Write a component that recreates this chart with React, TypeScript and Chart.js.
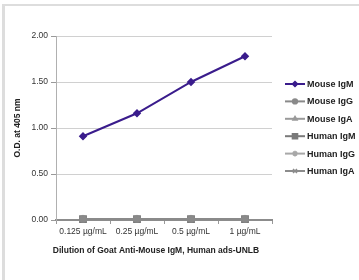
import React, { useEffect, useRef } from "react";
import { Chart, registerables } from "chart.js";
import { drawPoint } from "chart.js/helpers";

Chart.register(...registerables);

const categories = ["0.125 µg/mL", "0.25 µg/mL", "0.5 µg/mL", "1 µg/mL"];
const mouseIgM = [0.91, 1.16, 1.5, 1.78];
const mouseIgG = [0.01, 0.01, 0.01, 0.01];
const mouseIgA = [0.01, 0.01, 0.01, 0.01];
const humanIgM = [0.01, 0.01, 0.01, 0.01];
const humanIgG = [0.01, 0.01, 0.01, 0.01];
const humanIgA = [0.01, 0.01, 0.01, 0.01];
const yTicks = [0, 0.5, 1, 1.5, 2];
const yTitle = "O.D. at 405 nm";
const xTitle = "Dilution of Goat Anti-Mouse IgM, Human ads-UNLB";

const FONT = "'Liberation Sans', Arial, sans-serif";

const seriesDefs = [
  { label: "Mouse IgM", data: mouseIgM, color: "#3a1c8c", point: "rectRot", r: 3.2 },
  { label: "Mouse IgG", data: mouseIgG, color: "#8a8a8a", point: "circle", r: 3 },
  { label: "Mouse IgA", data: mouseIgA, color: "#9a9a9a", point: "triangle", r: 3 },
  { label: "Human IgM", data: humanIgM, color: "#7a7a7a", point: "rect", r: 4.5 },
  { label: "Human IgG", data: humanIgG, color: "#a8a8a8", point: "star", r: 3.5 },
  { label: "Human IgA", data: humanIgA, color: "#8c8c8c", point: "crossRot", r: 3.5 },
];

const customPlugin = {
  id: "customDecor",
  afterDraw(chart: any) {
    const ctx = chart.ctx;
    const area = chart.chartArea;
    ctx.save();
    ctx.fillStyle = "#222";
    ctx.font = `bold 8.5px ${FONT}`;
    ctx.textAlign = "center";
    ctx.textBaseline = "middle";
    ctx.save();
    ctx.translate(18, (area.top + area.bottom) / 2);
    ctx.rotate(-Math.PI / 2);
    ctx.fillText(yTitle, 0, 0);
    ctx.restore();
    ctx.fillText(xTitle, (area.left + area.right) / 2 - 8, 251);
    const x0 = 285;
    const x1 = 305;
    seriesDefs.forEach((s, i) => {
      const y = 84 + i * 17.4;
      ctx.strokeStyle = s.color;
      ctx.lineWidth = 2;
      ctx.beginPath();
      ctx.moveTo(x0, y);
      ctx.lineTo(x1, y);
      ctx.stroke();
      ctx.fillStyle = s.color;
      ctx.strokeStyle = s.color;
      ctx.lineWidth = 1.5;
      drawPoint(ctx, { pointStyle: s.point as any, radius: s.r * 0.8, borderWidth: 1.5, rotation: 0 }, (x0 + x1) / 2, y);
      ctx.fillStyle = "#222";
      ctx.font = `bold 9px ${FONT}`;
      ctx.textAlign = "left";
      ctx.textBaseline = "middle";
      ctx.fillText(s.label, 307, y + 0.5);
    });
    ctx.restore();
  },
};

export default function App() {
  const ref = useRef<HTMLCanvasElement | null>(null);
  useEffect(() => {
    if (!ref.current) return;
    const chart = new Chart(ref.current, {
      type: "line",
      data: {
        labels: categories,
        datasets: seriesDefs.map((s) => ({
          label: s.label,
          data: s.data,
          borderColor: s.color,
          backgroundColor: s.color,
          borderWidth: 2,
          pointStyle: s.point as any,
          pointRadius: s.r,
          pointBorderWidth: 1.5,
          pointBorderColor: s.color,
          pointBackgroundColor: s.color,
          tension: 0,
          clip: false as any,
        })),
      },
      options: {
        animation: false,
        responsive: false,
        maintainAspectRatio: false,
        layout: { padding: { left: 0, top: 36, right: 87, bottom: 0 } },
        plugins: { legend: { display: false }, tooltip: { enabled: false } },
        scales: {
          x: {
            type: "category",
            offset: true,
            grid: {
              offset: true,
              drawOnChartArea: false,
              drawTicks: true,
              tickLength: 4,
              tickColor: "#999",
            },
            border: { color: "#8c8c8c", width: 2 },
            ticks: {
              color: "#333",
              font: { family: FONT, size: 8.5 },
              padding: 3,
              maxRotation: 0,
              autoSkip: false,
            },
            afterFit: (scale: any) => {
              scale.height = 60;
            },
          },
          y: {
            min: 0,
            max: 2,
            afterBuildTicks: (scale: any) => {
              scale.ticks = yTicks.map((v) => ({ value: v }));
            },
            grid: {
              color: "#d0d0d0",
              lineWidth: 1,
              drawTicks: true,
              tickLength: 5,
              tickColor: "#999",
            },
            border: { color: "#b0b0b0", width: 1 },
            ticks: {
              color: "#333",
              font: { family: FONT, size: 8.5 },
              padding: 3,
              callback: (v: any) => Number(v).toFixed(2),
            },
            afterFit: (scale: any) => {
              scale.width = 56;
            },
          },
        },
      },
      plugins: [customPlugin],
    });
    return () => chart.destroy();
  }, []);
  return (
    <div style={{ position: "fixed", left: 0, top: 0, width: 359, height: 280, background: "#fff" }}>
      <div style={{ position: "absolute", left: 2, top: 4, width: 357, height: 2, background: "#dddddd" }} />
      <div style={{ position: "absolute", left: 2, top: 4, width: 3, height: 276, background: "#dddddd" }} />
      <canvas ref={ref} width={359} height={280} style={{ position: "absolute", left: 0, top: 0, width: 359, height: 280 }} />
    </div>
  );
}
